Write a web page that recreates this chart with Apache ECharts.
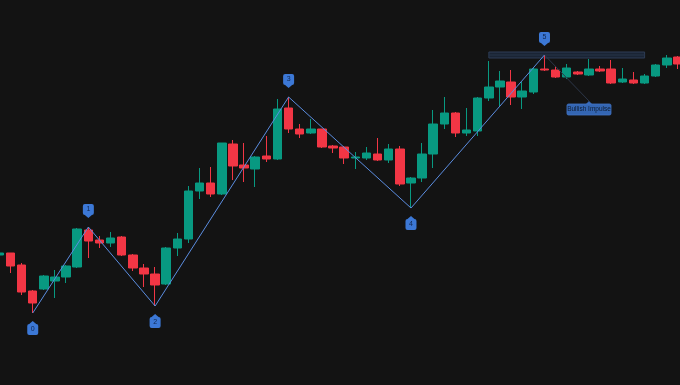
<!DOCTYPE html>
<html><head><meta charset="utf-8">
<script src="https://cdn.jsdelivr.net/npm/echarts@6/dist/echarts.min.js"></script>
<style>html,body{margin:0;padding:0;background:#131313;overflow:hidden;width:680px;height:385px;position:relative;}#c{position:absolute;left:-10px;top:0;width:700px;height:385px;}</style>
</head><body><div id="c"></div>
<script>
const opens  = [145,147,135,109,111,119,123,133,170,160,157,163,145,132,126,116,152,161,209,217,206,256,235,231,244,241,292,271,267,271,254,253,242,242,246,240,251,217,222,246,276,287,267,269,302,313,318,303,308,331,330,323,328,325,331,331,318,320,317,324,335,343];
const closes = [147,134,108,97,124,123,134,171,159,157,162,145,132,126,115,152,161,209,217,206,257,234,232,243,241,291,271,266,271,253,252,242,243,247,240,251,216,222,246,276,287,267,270,302,313,319,303,309,331,330,323,332,326,331,329,317,321,317,324,335,342,336];
const highs  = [148,147,137,110,125,130,135,172,173,164,168,164,146,136,133,153,167,214,232,233,257,260,257,244,264,301,303,276,281,271,255,254,248,253,262,256,254,223,257,290,303,288,292,303,339,329,330,318,332,345,334,336,329,341,334,340,332,328,326,336,345,344];
const lows   = [144,127,105,87,110,102,117,132,142,152,153,144,129,113,94,115,144,157,201,203,205,220,218,213,238,240,267,262,266,252,247,236,231,240,239,237,214,192,218,232,271,263,264,264,299,294,295,291,306,329,322,321,325,324,328,316,317,316,316,323,332,331];
const categories = opens.map((_, i) => 'Bar ' + (i + 1));

const pivotIndex = [3, 8, 14, 26, 37, 49];
const pivotPrice = [87, 173, 94, 303, 192, 345];
const pivotLabel = ['0', '1', '2', '3', '4', '5'];
const pivotSide  = ['low', 'high', 'low', 'high', 'low', 'high'];

const bandStart = 44, bandEnd = 58, bandTop = 348, bandBottom = 342, bandMid = 345;
const impulseText = 'Bullish Impulse';
const impulseIndex = 53, impulsePrice = 299;

const UP = '#089981', DOWN = '#f23645';

const zig = categories.map(() => null);
pivotIndex.forEach((p, k) => { zig[p] = pivotPrice[k]; });

const chart = echarts.init(document.getElementById('c'));
chart.setOption({
  backgroundColor: '#131313',
  animation: false,
  grid: { left: 3.8, right: 6.45, top: 0, bottom: 0 },
  xAxis: { type: 'category', data: categories, show: false, boundaryGap: true },
  yAxis: { type: 'value', min: 15, max: 400, show: false, splitLine: { show: false } },
  series: [
    {
      type: 'custom', z: 1, silent: true,
      data: [[bandStart, bandEnd, bandTop, bandBottom, bandMid]],
      encode: { x: [0, 1], y: [2, 3] },
      renderItem: function (params, api) {
        const a = api.coord([api.value(0), api.value(2)]);
        const b = api.coord([api.value(1), api.value(3)]);
        const m = api.coord([api.value(0), api.value(4)]);
        return { type: 'group', children: [
          { type: 'rect', shape: { x: a[0], y: a[1], width: b[0] - a[0], height: b[1] - a[1] },
            style: { fill: '#1a2434', stroke: '#2e3d56', lineWidth: 1 } },
          { type: 'line', shape: { x1: a[0], y1: m[1], x2: b[0], y2: m[1] },
            style: { stroke: '#263449', lineWidth: 1 } }
        ]};
      }
    },
    {
      type: 'candlestick', z: 2,
      data: categories.map((c, i) => [opens[i], closes[i], lows[i], highs[i]]),
      barWidth: 9,
      itemStyle: { color: UP, color0: DOWN, borderColor: UP, borderColor0: DOWN, borderWidth: 1 }
    },
    {
      type: 'custom', z: 3, silent: true,
      data: [[pivotIndex[5], pivotPrice[5], impulseIndex, impulsePrice]],
      encode: { x: [0, 2], y: [1, 3] },
      renderItem: function (params, api) {
        const p = api.coord([api.value(0), api.value(1)]);
        const a = api.coord([api.value(2), api.value(3)]);
        const w = 44, h = 11;
        return { type: 'group', children: [
          { type: 'line', shape: { x1: p[0], y1: p[1], x2: a[0], y2: a[1] },
            style: { stroke: '#2c3648', lineWidth: 1 } },
          { type: 'polygon', shape: { points: [[a[0] - 3, a[1] + 3], [a[0] + 3, a[1] + 3], [a[0], a[1]]] },
            style: { fill: '#3466b3' } },
          { type: 'rect', shape: { x: a[0] - w / 2, y: a[1] + 3, width: w, height: h, r: 1.5 },
            style: { fill: '#3466b3', stroke: '#4275c4', lineWidth: 0.8 } },
          { type: 'text', style: { x: a[0], y: a[1] + 3 + h / 2, text: impulseText, fill: '#0e1d33',
            font: '6.5px "Liberation Sans", Arial, sans-serif', align: 'center', verticalAlign: 'middle' } }
        ]};
      }
    },
    {
      type: 'line', z: 4, data: zig, connectNulls: true, symbol: 'none', silent: true,
      lineStyle: { color: '#5b8de0', width: 1 }
    },
    {
      type: 'custom', z: 5, silent: true,
      data: pivotIndex.map((p, k) => [p, pivotPrice[k], pivotLabel[k], pivotSide[k]]),
      encode: { x: 0, y: 1 },
      renderItem: function (params, api) {
        const k = params.dataIndex;
        const pt = api.coord([api.value(0), api.value(1)]);
        const side = pivotSide[k];
        const x = pt[0];
        const bw = 11, bh = 11;
        let tip, tri, boxY;
        if (side === 'high') {
          tip = pt[1] - 9;
          tri = [[x - 3.5, tip - 3], [x + 3.5, tip - 3], [x, tip]];
          boxY = tip - 3 - bh;
        } else {
          tip = pt[1] + 8;
          tri = [[x - 3.5, tip + 3], [x + 3.5, tip + 3], [x, tip]];
          boxY = tip + 3;
        }
        return { type: 'group', children: [
          { type: 'rect', shape: { x: x - bw / 2, y: boxY, width: bw, height: bh, r: 2 }, style: { fill: '#3c78d6' } },
          { type: 'polygon', shape: { points: tri }, style: { fill: '#3c78d6' } },
          { type: 'text', style: { x: x, y: boxY + bh / 2, text: pivotLabel[k], fill: '#0f2650',
            font: '7px "Liberation Sans", Arial, sans-serif', align: 'center', verticalAlign: 'middle' } }
        ]};
      }
    }
  ]
});
</script>
</body></html>
